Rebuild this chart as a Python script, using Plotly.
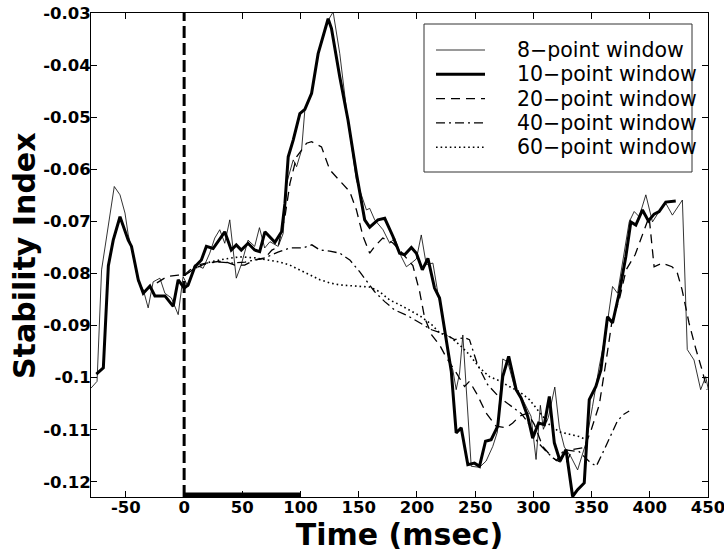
import plotly.graph_objects as go

# ---------------- data ----------------
t8 = [-80.0, -74.8, -70.9, -60.0, -55.1, -50.8, -48.0, -45.2, -39.4, -35.1,
      -30.9, -26.6, -20.8, -16.5, -10.9, -5.1, -0.9, 3.4, 9.2, 16.3,
      22.0, 26.3, 30.6, 34.9, 39.2, 44.8, 49.1, 54.9, 60.6, 64.7,
      69.2, 73.7, 80.8, 85.1, 88.0, 93.7, 96.6, 100.9, 103.7, 109.5,
      115.1, 119.4, 123.7, 128.0, 133.7, 139.5, 148.0, 156.6, 159.4, 163.7,
      170.8, 176.6, 180.8, 186.6, 190.9, 195.2, 199.5, 203.7, 208.0, 213.7,
      218.0, 222.3, 228.0, 230.8, 233.7, 236.6, 239.4, 246.6, 253.7, 259.4,
      265.1, 269.1, 273.7, 278.0, 283.7, 290.8, 298.0, 302.3, 306.0, 308.6,
      312.9, 318.4, 322.3, 326.6, 332.3, 338.0, 345.2, 350.8, 356.6, 362.3,
      368.0, 372.3, 376.5, 382.3, 386.6, 390.9, 396.6, 402.3, 408.0, 413.7,
      419.4, 428.0, 432.2, 438.0, 443.7, 448.0, 452.0]
v8 = [-0.1020, -0.1007, -0.0793, -0.0633, -0.0649, -0.0684, -0.0726, -0.0751, -0.0816, -0.0831,
      -0.0866, -0.0816, -0.0809, -0.0838, -0.0847, -0.0879, -0.0806, -0.0825, -0.0783, -0.0790,
      -0.0761, -0.0732, -0.0716, -0.0742, -0.0697, -0.0809, -0.0783, -0.0736, -0.0748, -0.0712,
      -0.0751, -0.0739, -0.0748, -0.0723, -0.0627, -0.0582, -0.0595, -0.0563, -0.0486, -0.0454,
      -0.0377, -0.0345, -0.0314, -0.0298, -0.0378, -0.0486, -0.0621, -0.0678, -0.0675, -0.0697,
      -0.0716, -0.0742, -0.0732, -0.0768, -0.0787, -0.0780, -0.0772, -0.0726, -0.0783, -0.0780,
      -0.0838, -0.0883, -0.0972, -0.0985, -0.1023, -0.0991, -0.0918, -0.1170, -0.1172, -0.1160,
      -0.1132, -0.1104, -0.0964, -0.0970, -0.1017, -0.1042, -0.1074, -0.1157, -0.1053, -0.1099,
      -0.1076, -0.1018, -0.1095, -0.1133, -0.1152, -0.1177, -0.1125, -0.1055, -0.0978, -0.0914,
      -0.0825, -0.0838, -0.0780, -0.0701, -0.0681, -0.0691, -0.0649, -0.0701, -0.0681, -0.0665,
      -0.0688, -0.0659, -0.0946, -0.0966, -0.1023, -0.0998, -0.1040]

t10 = [-75.4, -69.4, -65.1, -60.9, -55.1, -48.0, -45.2, -39.4, -35.1, -29.4,
       -25.1, -16.5, -9.4, -5.1, 0.0, 3.4, 9.2, 14.8, 19.1, 24.9,
       34.9, 40.5, 44.8, 49.1, 54.9, 60.6, 64.9, 69.4, 78.0, 83.7,
       86.6, 89.4, 93.7, 99.4, 103.7, 109.5, 115.1, 119.4, 123.7, 126.6,
       133.7, 140.8, 148.0, 155.1, 159.4, 166.5, 172.3, 179.4, 185.1, 189.4,
       195.2, 199.5, 204.6, 209.4, 215.1, 219.4, 223.7, 229.5, 233.7, 238.0,
       243.7, 249.4, 253.7, 258.9, 263.7, 269.4, 273.7, 278.8, 285.2, 289.4,
       295.1, 299.4, 304.5, 309.4, 313.7, 318.0, 322.9, 328.0, 333.7, 338.0,
       343.7, 348.0, 353.7, 358.0, 363.7, 368.0, 373.7, 379.4, 383.7, 388.0,
       393.7, 398.8, 403.7, 408.0, 413.7, 422.3]
v10 = [-0.0993, -0.0981, -0.0785, -0.0736, -0.0691, -0.0736, -0.0748, -0.0812, -0.0838, -0.0824,
       -0.0843, -0.0843, -0.0863, -0.0812, -0.0828, -0.0822, -0.0787, -0.0774, -0.0748, -0.0752,
       -0.0720, -0.0755, -0.0745, -0.0755, -0.0742, -0.0755, -0.0758, -0.0720, -0.0740, -0.0720,
       -0.0665, -0.0576, -0.0544, -0.0493, -0.0485, -0.0454, -0.0378, -0.0346, -0.0311, -0.0330,
       -0.0423, -0.0506, -0.0608, -0.0697, -0.0711, -0.0697, -0.0694, -0.0729, -0.0761, -0.0764,
       -0.0750, -0.0761, -0.0793, -0.0771, -0.0828, -0.0847, -0.0908, -0.0988, -0.1106, -0.1096,
       -0.1167, -0.1164, -0.1170, -0.1122, -0.1119, -0.1093, -0.0998, -0.0959, -0.1023, -0.1039,
       -0.1074, -0.1116, -0.1087, -0.1090, -0.1036, -0.1125, -0.1160, -0.1138, -0.1228, -0.1215,
       -0.1202, -0.1042, -0.1017, -0.0985, -0.0883, -0.0895, -0.0838, -0.0768, -0.0701, -0.0707,
       -0.0678, -0.0699, -0.0686, -0.0681, -0.0663, -0.0661]

t20 = [-23.4, -14.8, -5.1, 0.9, 9.4, 19.5, 29.1, 34.9, 43.5, 52.0,
       60.6, 69.2, 75.4, 80.6, 86.6, 90.9, 96.6, 105.2, 109.5, 118.0,
       125.1, 133.7, 142.3, 148.0, 153.7, 159.4, 163.7, 170.6, 179.1, 185.1,
       190.9, 196.5, 202.3, 206.6, 212.6, 219.4, 225.4, 232.3, 240.9, 245.1,
       250.9, 259.5, 268.0, 276.6, 282.3, 288.0, 295.1, 300.9, 308.0, 316.5,
       322.3, 328.3, 333.4, 343.7, 349.7, 356.6, 362.6, 367.7, 373.7, 379.7,
       387.4, 393.4, 399.4, 403.7, 410.6, 419.1, 423.4, 427.7, 433.7, 439.7,
       444.9, 449.2]
v20 = [-0.0818, -0.0806, -0.0803, -0.0803, -0.0790, -0.0780, -0.0777, -0.0777, -0.0784, -0.0784,
       -0.0774, -0.0771, -0.0755, -0.0749, -0.0691, -0.0627, -0.0576, -0.0550, -0.0547, -0.0557,
       -0.0601, -0.0621, -0.0643, -0.0678, -0.0729, -0.0761, -0.0748, -0.0732, -0.0741, -0.0755,
       -0.0770, -0.0785, -0.0835, -0.0885, -0.0918, -0.0937, -0.0962, -0.0985, -0.1017, -0.1007,
       -0.1029, -0.1068, -0.1093, -0.1096, -0.1087, -0.1074, -0.1068, -0.1090, -0.1132, -0.1154,
       -0.1161, -0.1163, -0.1138, -0.1134, -0.1100, -0.1052, -0.0966, -0.0889, -0.0851, -0.0793,
       -0.0764, -0.0726, -0.0691, -0.0787, -0.0780, -0.0787, -0.0797, -0.0831, -0.0895, -0.0946,
       -0.0985, -0.1023]

t40 = [0.0, 9.2, 18.9, 30.9, 41.1, 52.3, 60.9, 69.4, 80.6, 90.9,
       102.0, 109.7, 116.6, 125.1, 133.7, 142.3, 150.9, 157.7, 163.7, 172.3,
       180.8, 192.0, 202.3, 212.6, 223.7, 232.3, 240.9, 245.1, 252.0, 260.6,
       270.9, 281.1, 289.7, 296.6, 303.4, 312.0, 319.7, 326.6, 339.4, 348.0,
       354.0, 360.9, 366.9, 372.0, 377.1, 382.3]
v40 = [-0.0803, -0.0785, -0.0780, -0.0778, -0.0780, -0.0778, -0.0774, -0.0770, -0.0759, -0.0751,
       -0.0751, -0.0745, -0.0755, -0.0757, -0.0761, -0.0774, -0.0797, -0.0818, -0.0835, -0.0854,
       -0.0870, -0.0881, -0.0895, -0.0908, -0.0916, -0.0927, -0.0923, -0.0927, -0.0975, -0.1013,
       -0.1038, -0.1054, -0.1069, -0.1090, -0.1123, -0.1144, -0.1159, -0.1138, -0.1142, -0.1161,
       -0.1170, -0.1138, -0.1109, -0.1084, -0.1071, -0.1064]

t60 = [0.0, 10.3, 22.3, 35.1, 48.0, 60.9, 71.1, 82.3, 90.9, 99.4,
       108.0, 116.6, 125.1, 133.7, 146.6, 159.4, 168.0, 176.6, 185.1, 193.7,
       202.3, 212.6, 219.4, 228.0, 236.6, 245.1, 253.7, 262.3, 270.9, 279.4,
       288.0, 296.6, 305.1, 313.7, 322.3, 330.9, 339.4, 345.4]
v60 = [-0.0803, -0.0789, -0.0778, -0.0772, -0.0768, -0.0770, -0.0774, -0.0778, -0.0784, -0.0793,
       -0.0803, -0.0812, -0.0818, -0.0822, -0.0824, -0.0826, -0.0835, -0.0851, -0.0860, -0.0870,
       -0.0881, -0.0898, -0.0914, -0.0921, -0.0937, -0.0956, -0.0981, -0.0998, -0.1006, -0.1017,
       -0.1027, -0.1042, -0.1067, -0.1090, -0.1104, -0.1109, -0.1113, -0.1119]

series_names = ["8\u2212point window", "10\u2212point window", "20\u2212point window",
                "40\u2212point window", "60\u2212point window"]

x_tickvals = [-50, 0, 50, 100, 150, 200, 250, 300, 350, 400, 450]
x_ticktext = ["-50", "0", "50", "100", "150", "200", "250", "300", "350", "400", "450"]
y_tickvals = [-0.12, -0.11, -0.10, -0.09, -0.08, -0.07, -0.06, -0.05, -0.04, -0.03]
y_ticktext = ["-0.12", "-0.11", "-0.1", "-0.09", "-0.08",
              "-0.07", "-0.06", "-0.05", "-0.04", "-0.03"]

x_range = [-80, 450]
y_range = [-0.1229, -0.03]
stim_onset = 0
stim_offset = 100

# ---------------- figure ----------------
FONT = "DejaVu Sans, Verdana, sans-serif"
W, H = 724, 553
ML, MR, MT, MB = 91, 16, 13, 56
PW, PH = W - ML - MR, H - MT - MB


def px_x(px):  # pixel -> paper x (layout helper for legend/titles)
    return (px - ML) / PW


def px_y(py):  # pixel -> paper y
    return (H - MB - py) / PH


fig = go.Figure()
styles = [
    dict(color="black", width=0.8),
    dict(color="black", width=3),
    dict(color="black", width=1.3, dash="9px,6px"),
    dict(color="black", width=1.3, dash="9px,4px,2px,4px"),
    dict(color="black", width=1.6, dash="1.6px,3px"),
]
data = [(t8, v8), (t10, v10), (t20, v20), (t40, v40), (t60, v60)]
for (tx, vy), name, st in zip(data, series_names, styles):
    fig.add_trace(go.Scatter(x=tx, y=vy, mode="lines", name=name, line=st, showlegend=False))

# stimulus onset line and stimulus bar
fig.add_shape(type="line", xref="x", yref="paper", x0=stim_onset, x1=stim_onset, y0=0, y1=1,
              line=dict(color="black", width=3, dash="12px,5px"))
fig.add_shape(type="line", xref="x", yref="paper", x0=stim_onset, x1=stim_offset,
              y0=px_y(495), y1=px_y(495), line=dict(color="black", width=5))

# legend box (drawn in paper coordinates)
fig.add_shape(type="rect", xref="paper", yref="paper",
              x0=px_x(424), x1=px_x(692), y0=px_y(172), y1=px_y(24),
              line=dict(color="#333", width=1), fillcolor="white", layer="above")
row_top, row_gap = 50, 24.3
for i, (name, st) in enumerate(zip(series_names, styles)):
    yy = px_y(row_top + i * row_gap)
    fig.add_shape(type="line", xref="paper", yref="paper", x0=px_x(436), x1=px_x(485),
                  y0=yy, y1=yy, line=st, layer="above")
    fig.add_annotation(xref="paper", yref="paper", x=px_x(515), y=yy, text=name,
                       showarrow=False, xanchor="left", yanchor="middle",
                       font=dict(family=FONT, size=20.5, color="black"))

# y-axis title
fig.add_annotation(xref="paper", yref="paper", x=px_x(25), y=px_y(256), text="Stability Index",
                   textangle=-90, showarrow=False, xanchor="center", yanchor="middle",
                   font=dict(family=FONT, size=30, color="black", weight="bold"))

axis_common = dict(showline=True, linecolor="black", linewidth=1, mirror="allticks",
                   ticks="inside", ticklen=6, tickcolor="black", tickwidth=1,
                   showgrid=False, zeroline=False, automargin=False,
                   ticklabeloverflow="allow",
                   tickfont=dict(family=FONT, size=16.5, color="black", weight="bold"))

fig.update_layout(
    width=W, height=H,
    margin=dict(l=ML, r=MR, t=MT, b=MB),
    paper_bgcolor="white", plot_bgcolor="white",
    xaxis=dict(range=x_range, tickmode="array", tickvals=x_tickvals, ticktext=x_ticktext,
               ticklabelstandoff=-5,
               title=dict(text="Time (msec)", standoff=2,
                          font=dict(family=FONT, size=30, color="black", weight="bold")),
               **axis_common),
    yaxis=dict(range=y_range, tickmode="array", tickvals=y_tickvals, ticktext=y_ticktext,
               ticklabelstandoff=-4, **axis_common),
    showlegend=False,
)

fig.write_html("out.html", config={"displayModeBar": False},
               post_script="document.body.style.margin='0';document.body.style.overflow='hidden';")
